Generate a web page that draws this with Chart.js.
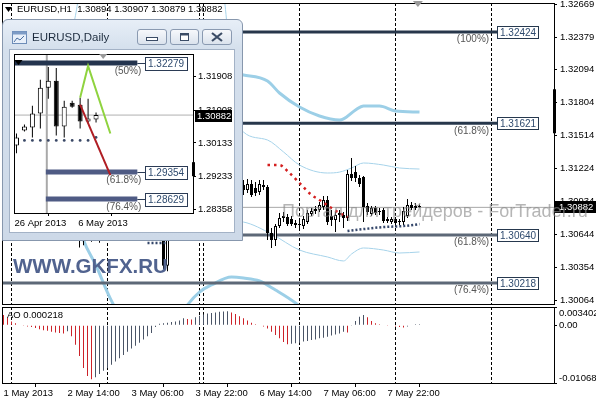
<!DOCTYPE html>
<html><head><meta charset="utf-8">
<script src="https://cdn.jsdelivr.net/npm/chart.js@4.4.1/dist/chart.umd.min.js"></script>
<style>
html,body{margin:0;padding:0;background:#fff;}
body{width:596px;height:400px;position:relative;overflow:hidden;font-family:"Liberation Sans",Arial,sans-serif;}
canvas.full{position:absolute;left:0;top:0;}
#hdr{position:absolute;left:17px;top:4px;font-size:9.5px;line-height:10px;color:#000;white-space:pre;}
#wm{position:absolute;left:282px;top:202px;font-size:18px;line-height:18px;color:rgba(135,135,135,0.62);white-space:nowrap;}
#gkfx{position:absolute;left:13px;top:256px;font-size:20.5px;line-height:20.5px;font-weight:bold;color:#51638f;white-space:nowrap;}
#win{position:absolute;left:2px;top:19px;width:241px;height:222px;box-sizing:border-box;border:1px solid #8797ad;border-radius:6px 6px 0 0;background:linear-gradient(#e7eef7,#d5e0ed 28px,#cdd9e8);}
#client{position:absolute;left:6px;top:29px;width:226px;height:184px;box-sizing:border-box;border:1px solid #a3b2c6;background:#fff;}
#daily{position:absolute;left:0;top:0;}
#title{position:absolute;left:29px;top:12px;font-size:11.5px;line-height:11.5px;color:#1d2c3e;white-space:nowrap;}
#icon{position:absolute;left:9px;top:11px;}
.btn{position:absolute;top:9px;height:16px;box-sizing:border-box;border:1px solid #8a9ab1;border-radius:3px;background:linear-gradient(#f6f8fb,#dbe3ed);}
.btn svg{position:absolute;left:0;top:0;}
</style></head>
<body>
<canvas id="main" class="full" width="596" height="400"></canvas>
<canvas id="ao" class="full" width="596" height="400"></canvas>
<div id="hdr">EURUSD,H1  1.30894 1.30907 1.30879 1.30882</div>
<div id="wm">Портал для трейдеров - ForTrader.ru</div>
<div id="gkfx">WWW.GKFX.RU</div>
<div id="win">
  <svg id="icon" width="16" height="14"><rect x="0.5" y="0.5" width="14" height="12" fill="#e8f0fa" stroke="#6d8db8"/><rect x="0.5" y="0.5" width="14" height="3" fill="#7d9cc6"/><polyline points="2,11 5,7 8,9 12,5" fill="none" stroke="#4a6fa0" stroke-width="1"/></svg>
  <div id="title">EURUSD,Daily</div>
  <div class="btn" style="left:134px;width:30px;"><svg width="28" height="14"><rect x="8.5" y="7.5" width="11" height="3" fill="#fff" stroke="#3b4c66"/></svg></div>
  <div class="btn" style="left:167px;width:29px;"><svg width="27" height="14"><rect x="9.5" y="3.5" width="8" height="7" fill="#fff" stroke="#3b4c66"/><line x1="9.5" y1="4.5" x2="17.5" y2="4.5" stroke="#3b4c66" stroke-width="2"/></svg></div>
  <div class="btn" style="left:199px;width:30px;"><svg width="28" height="14"><path d="M9 3 L19 11 M19 3 L9 11" stroke="#3b4c66" stroke-width="2.2"/></svg></div>
  <div id="client"><canvas id="daily" width="224" height="182"></canvas></div>
</div>
<script>
// ================= DATA (H1, bar index 0 = 1 May 22:00) =================
const opens  = [1.3225,1.3228,1.3236,1.3218,1.3208,1.3211,1.3206,1.3199,1.3204,1.3197,1.3193,1.3195,1.3188,1.3190,1.3184,1.3186,1.3175,1.3178,1.3138,1.3085,
1.3066,1.3078,1.3070,1.3079,1.3068,1.3074,1.3086,1.3082,1.3088,1.3084,1.3090,1.3094,1.3089,1.3095,1.3100,1.3097,1.3102,1.3106,1.3103,1.3105,
1.3121,1.3037,1.3074,1.3094,1.3106,1.3113,1.3109,1.3123,1.3118,1.3121,1.3117,1.3130,1.3126,1.3119,1.3124,1.3114,1.3117,1.3108,1.3112,1.3106,
1.31078,1.31035,1.31087,1.31052,1.31017,1.31061,1.31061,1.30656,1.30595,1.30718,1.30788,1.30797,1.30779,1.30744,1.30727,1.30718,1.30753,1.30823,1.30850,1.30859,
1.30885,1.30947,1.30806,1.30771,1.30815,1.30815,1.30788,1.31175,1.31192,1.31140,1.31149,1.30894,1.30823,1.30876,1.30850,1.30859,1.30779,1.30753,1.30779,1.30762,
1.30753,1.30806,1.30903,1.30876,1.30894];
const highs  = [1.3232,1.3242,1.3238,1.3222,1.3214,1.3216,1.3210,1.3207,1.3208,1.3203,1.3199,1.3198,1.3194,1.3193,1.3190,1.3189,1.3182,1.3181,1.3145,1.3098,
1.3083,1.3090,1.3082,1.3088,1.3077,1.3089,1.3094,1.3090,1.3096,1.3092,1.3098,1.3101,1.3097,1.3104,1.3108,1.3105,1.3110,1.3112,1.3109,1.3126,
1.3124,1.3079,1.3098,1.3112,1.3118,1.3121,1.3127,1.3130,1.3125,1.3126,1.3135,1.3138,1.3132,1.3128,1.3129,1.3121,1.3122,1.3116,1.3118,1.3114,
1.31122,1.31131,1.31122,1.31105,1.31122,1.31122,1.31078,1.30700,1.30735,1.30832,1.30841,1.30823,1.30806,1.30771,1.30771,1.30806,1.30859,1.30876,1.30894,1.30929,
1.30982,1.30982,1.30859,1.30841,1.30859,1.30841,1.31210,1.31316,1.31245,1.31166,1.31157,1.30920,1.30894,1.30894,1.30876,1.30876,1.30797,1.30797,1.30797,1.30779,
1.30885,1.30955,1.30929,1.30920,1.30907];
const lows   = [1.3221,1.3224,1.3215,1.3205,1.3200,1.3204,1.3196,1.3195,1.3194,1.3190,1.3187,1.3185,1.3183,1.3180,1.3178,1.3172,1.3168,1.3132,1.3072,1.3053,
1.3055,1.3060,1.3058,1.3062,1.3057,1.3069,1.3079,1.3076,1.3081,1.3078,1.3084,1.3086,1.3083,1.3090,1.3093,1.3090,1.3096,1.3099,1.3097,1.3098,
1.3034,1.3032,1.3068,1.3088,1.3098,1.3104,1.3105,1.3114,1.3110,1.3115,1.3112,1.3122,1.3115,1.3112,1.3111,1.3106,1.3104,1.3102,1.3103,1.3101,
1.30991,1.31008,1.30973,1.30982,1.30991,1.31035,1.30595,1.30524,1.30542,1.30700,1.30753,1.30718,1.30718,1.30700,1.30691,1.30691,1.30735,1.30806,1.30823,1.30841,
1.30859,1.30727,1.30718,1.30665,1.30753,1.30700,1.30762,1.31113,1.31105,1.31061,1.30753,1.30815,1.30806,1.30815,1.30815,1.30744,1.30744,1.30735,1.30709,1.30727,
1.30727,1.30788,1.30859,1.30859,1.30879];
const closes = [1.3228,1.3236,1.3218,1.3208,1.3211,1.3206,1.3199,1.3204,1.3197,1.3193,1.3195,1.3188,1.3190,1.3184,1.3186,1.3175,1.3178,1.3138,1.3085,1.3066,
1.3078,1.3070,1.3079,1.3068,1.3074,1.3086,1.3082,1.3088,1.3084,1.3090,1.3094,1.3089,1.3095,1.3100,1.3097,1.3102,1.3106,1.3103,1.3105,1.3121,
1.3037,1.3074,1.3094,1.3106,1.3113,1.3109,1.3123,1.3118,1.3121,1.3117,1.3130,1.3126,1.3119,1.3124,1.3114,1.3117,1.3108,1.3112,1.3106,1.3110,
1.31035,1.31087,1.30991,1.31008,1.31087,1.31078,1.30656,1.30595,1.30718,1.30788,1.30806,1.30735,1.30735,1.30727,1.30735,1.30779,1.30832,1.30850,1.30867,1.30903,
1.30947,1.30753,1.30771,1.30815,1.30832,1.30788,1.31175,1.31140,1.31140,1.31087,1.30885,1.30841,1.30876,1.30832,1.30841,1.30762,1.30762,1.30779,1.30744,1.30753,
1.30850,1.30903,1.30876,1.30894,1.30882];
const aoValues = [0.0019,0.0014,0.0007,0.0004,0.0001,-0.0001,-0.0002,-0.0003,-0.0005,-0.0007,-0.0009,-0.0010,-0.0012,-0.0013,-0.0014,-0.0015,-0.0011,-0.0020,-0.0036,-0.0057,
-0.0079,-0.0094,-0.0100,-0.0096,-0.0090,-0.0084,-0.0079,-0.0073,-0.0067,-0.0061,-0.0055,-0.0049,-0.0043,-0.0038,-0.0032,-0.0026,-0.0020,-0.0014,-0.0003,0.0003,
0.0004,0.0005,0.0006,0.0007,0.0009,0.0013,0.0012,0.0011,0.0015,0.0018,0.0020,0.0022,0.0023,0.0024,0.0025,0.00255,0.0026,0.0024,0.0021,0.0017,
0.0013,0.0009,0.0005,0.0002,0.0001,-0.0002,-0.0006,-0.0012,-0.0018,-0.0024,-0.0031,-0.0035,-0.0034,-0.0033,-0.0032,-0.0030,-0.0029,-0.0027,-0.0026,-0.0024,
-0.0023,-0.0021,-0.0019,-0.0017,-0.0015,-0.0012,-0.0013,-0.0001,0.0008,0.0016,0.0019,0.0015,0.0008,0.0004,0.0002,0.0001,-0.0001,0.0001,-0.0002,-0.0003,
-0.0004,-0.0002,0.0001,0.0002,0.000218];
const timeTickIdx = [0,16,32,48,64,80,96];
const timeTickLabels = ['1 May 2013','2 May 14:00','3 May 06:00','3 May 22:00','6 May 14:00','7 May 06:00','7 May 22:00'];
const daySepIdx = [2,26,49,50,74,98,122];
const priceTicks = [1.32669,1.32379,1.32094,1.31804,1.31514,1.31224,1.30934,1.30644,1.30354,1.30064];
const aoTicks = [0.003402,0,-0.01068];
const aoTickLabels = ['0.003402','0.00','-0.01068'];
const aoName = 'AO', aoLast = 0.000218;
const fibPrices = [1.32424,1.31621,1.30640,1.30218];
const fibLevels = ['(100%)','(61.8%)','(61.8%)','(76.4%)'];
const fibEndIdx = 123.4;
const bidPrice = 1.30882;
const bandThickUpper = [[45,1.3212],[52,1.3208],[60,1.32045],[66,1.31993],[69,1.31887],[74,1.31764],[79,1.31685],[84,1.31650],[85,1.31659],[88,1.31738],[90,1.31773],[94,1.31773],[98,1.31729],[104,1.31720]];
const bandThickLower = [[14,1.3140],[20,1.30595],[23,1.30380],[27,1.30060],[30,1.2990],[44,1.2990],[46,1.30024],[49,1.30138],[52,1.30200],[57,1.30270],[60,1.30261],[64,1.30235],[68,1.30156],[73,1.30042],[76,1.2995]];
const bandThinUpper = [[15,1.3230],[17,1.3240],[18,1.3257],[19,1.3275],[25,1.3290],[52,1.3290],[55,1.3275],[57,1.3200],[58,1.3170],[60,1.31544],[66,1.31474],[70,1.31369],[74,1.31254],[81,1.31184],[84,1.31192],[87,1.31228],[90,1.31272],[95,1.31254],[99,1.31228],[104,1.31219]];
const bandThinLower = [[57,1.3076],[60,1.30753],[67,1.30648],[74,1.30507],[81,1.30446],[85,1.30411],[87,1.30472],[90,1.30525],[95,1.30507],[99,1.30481],[104,1.30490]];
const redDots = [[66,1.31254],[69,1.31254],[71,1.31201],[74,1.31096],[77,1.30991],[79,1.30947],[82,1.30876],[84,1.30832],[86,1.30797]];
const navyDots = [[86,1.30674],[90,1.30691],[95,1.30709],[100,1.30718],[104,1.30735]];
const navyDotsEarly = [[36,1.30569],[41,1.30569]];

// ================= DATA (Daily inset, index 0 = 26 Apr 2013) =================
const dOpens  = [1.30068,1.30468,1.30548,1.30921,1.31615,1.31801,1.30575,1.31215,1.31161,1.30708,1.30761];
const dHighs  = [1.30388,1.30628,1.31135,1.31828,1.32175,1.32148,1.31268,1.31268,1.31348,1.31321,1.30948];
const dLows   = [1.29855,1.30441,1.30281,1.30521,1.31321,1.30335,1.30281,1.31081,1.30521,1.30655,1.30681];
const dCloses = [1.30281,1.30575,1.30921,1.31615,1.31801,1.30575,1.31108,1.31108,1.30708,1.30788,1.30882];
const dTickIdx = [0,8];
const dTickLabels = ['26 Apr 2013','6 May 2013'];
const dPriceTicks = [1.31908,1.31008,1.30133,1.29233,1.28358];
const dFibPrices = [1.32279,1.29354,1.28629];
const dFibLevels = ['(50%)','(61.8%)','(76.4%)'];
const dFibStartIdx = [-0.3125,3.69,3.69];
const dFibEndIdx = 15.19;
const dMonthSepIdx = 3.81;
const dGreen = [[8,1.31348],[9,1.32201],[11.8,1.30388]];
const dRed = [[8,1.31161],[11.8,1.29268]];
const dDots = [[1,1.30201],[2,1.30201],[3,1.30201],[4,1.30201],[5,1.30201],[6,1.30201],[7,1.30201],[8,1.30201],[9,1.30201],[10,1.30281]];

// ================= helpers =================
const FONT = '"Liberation Sans", Arial, sans-serif';
const pts = a => a.map(([x,y]) => ({x, y}));
function candleSets(o,h,l,c,bodyW){
  const idx = o.map((_,i)=>i);
  return [
    {type:'bar', data: idx.map(i=>({x:i, y:[l[i],h[i]]})), barThickness:1, grouped:false,
     backgroundColor:'#000', borderWidth:0, inflateAmount:0, order:2},
    {type:'bar', data: idx.map(i=>({x:i, y:[Math.min(o[i],c[i]), Math.max(o[i],c[i])]})), barThickness:bodyW, grouped:false,
     backgroundColor: idx.map(i=> c[i]>=o[i] ? '#fff' : '#000'), borderColor:'#000', borderWidth:1, borderSkipped:false,
     inflateAmount:0, minBarLength:1, order:1}
  ];
}
function lineSet(data, color, width, order, extra){
  return Object.assign({type:'line', data: pts(data), borderColor:color, borderWidth:width, pointRadius:0,
    fill:false, order, clip:0, cubicInterpolationMode:'monotone'}, extra||{});
}
function drawSeparators(chart, list, dash, color, width){
  const {ctx, chartArea:ca} = chart, xs = chart.scales.x;
  ctx.save(); ctx.beginPath(); ctx.rect(ca.left, ca.top, ca.width, ca.height); ctx.clip();
  ctx.strokeStyle = color; ctx.lineWidth = width; ctx.setLineDash(dash);
  list.forEach(v => { const px = xs.getPixelForValue(v); ctx.beginPath(); ctx.moveTo(px, ca.top); ctx.lineTo(px, ca.bottom+1); ctx.stroke(); });
  ctx.restore();
}
function drawFrame(chart){
  const {ctx, chartArea:ca} = chart;
  ctx.save(); ctx.strokeStyle='#000'; ctx.lineWidth=1; ctx.setLineDash([]);
  ctx.strokeRect(ca.left+0.5, ca.top+0.5, ca.width, ca.height); ctx.restore();
}
function tri(ctx, x0, x1, y0, y1, color){
  ctx.fillStyle = color; ctx.beginPath(); ctx.moveTo(x0,y0); ctx.lineTo(x1,y0); ctx.lineTo((x0+x1)/2,y1); ctx.closePath(); ctx.fill();
}

// ================= main H1 price chart =================
const mainDecor = {
  id:'mainDecor',
  beforeDatasetsDraw(chart){ drawSeparators(chart, daySepIdx, [3,2], '#000', 1); },
  afterDatasetsDraw(chart){
    const {ctx} = chart, xs = chart.scales.x, ys = chart.scales.y;
    const xe = xs.getPixelForValue(fibEndIdx);
    ctx.save(); ctx.font = '10px '+FONT; ctx.textBaseline='middle';
    fibPrices.forEach((p,k)=>{
      const y = ys.getPixelForValue(p);
      const bx = Math.round(xe)+0.5, by = Math.round(y)-6+0.5;
      ctx.fillStyle='#fff'; ctx.fillRect(bx,by,41,12);
      ctx.strokeStyle='#26384e'; ctx.lineWidth=1; ctx.strokeRect(bx,by,41,12);
      ctx.fillStyle='#2e4a6e'; ctx.textAlign='left'; ctx.fillText(p.toFixed(5), bx+2.5, by+6.5);
      ctx.fillStyle='#555'; ctx.textAlign='right'; ctx.fillText(fibLevels[k], xe-8, y+7.5);
    });
    ctx.restore();
    drawFrame(chart);
  },
  afterDraw(chart){
    const {ctx, chartArea:ca} = chart, ys = chart.scales.y, xs = chart.scales.x;
    ctx.save();
    const yb = Math.round(ys.getPixelForValue(bidPrice));
    ctx.fillStyle='#000'; ctx.fillRect(ca.right+1, yb-6, 596-ca.right-1, 12);
    ctx.fillStyle='#fff'; ctx.font='9.5px '+FONT; ctx.textBaseline='middle'; ctx.textAlign='left';
    ctx.fillText(bidPrice.toFixed(5), ca.right+5, yb+0.5);
    ctx.fillStyle='#000'; ctx.fillRect(ca.right-1, ys.getPixelForValue(1.3192), 3, 44);
    tri(ctx, xs.getPixelForValue(103.6)-5, xs.getPixelForValue(103.6)+5, 1, 7, '#9a9a9a');
    tri(ctx, 5, 12, 7, 12, '#000');
    ctx.restore();
  }
};
new Chart(document.getElementById('main'), {
  type:'bar',
  data:{datasets:[
    lineSet([[-0.375,bidPrice],[137.625,bidPrice]], '#a8a8a8', 1, 20, {cubicInterpolationMode:'default', tension:0}),
    lineSet(bandThickUpper, '#9ccfe7', 3, 15),
    lineSet(bandThickLower, '#9ccfe7', 3, 15),
    lineSet(bandThinUpper, '#a6d3ea', 1, 15),
    lineSet(bandThinLower, '#a6d3ea', 1, 15),
    ...fibPrices.map((p,k)=> lineSet([[-0.375,p],[fibEndIdx,p]], k<2 ? '#27374b' : '#5d6877', 3, 12, {tension:0, cubicInterpolationMode:'default'})),
    ...candleSets(opens, highs, lows, closes, 3),
    lineSet(redDots, '#d41f1f', 2.5, 0, {borderDash:[2.5,4]}),
    lineSet(navyDots, '#34466a', 2.5, 0, {borderDash:[2,2]}),
    lineSet(navyDotsEarly, '#34466a', 2.5, 0, {borderDash:[2,2], tension:0})
  ]},
  options:{
    responsive:false, animation:false, devicePixelRatio:1,
    layout:{padding:{left:2, top:3, right:0, bottom:96}},
    plugins:{legend:{display:false}, tooltip:{enabled:false}},
    scales:{
      x:{type:'linear', min:-0.375, max:137.625, offset:false, display:false},
      y:{type:'linear', position:'right', min:1.300328, max:1.32678,
        afterBuildTicks:s=>{ s.ticks = priceTicks.map(v=>({value:v})); },
        afterFit:s=>{ s.width=42; s.paddingTop=0; s.paddingBottom=0; },
        ticks:{font:{family:'Liberation Sans', size:9.5}, color:'#000', padding:3, autoSkip:false, callback:v=>Number(v).toFixed(5)},
        grid:{drawOnChartArea:false, drawTicks:true, tickLength:3, color:'#000'},
        border:{display:false}}
    }
  },
  plugins:[mainDecor]
});

// ================= AO panel =================
const aoDecor = {
  id:'aoDecor',
  beforeDatasetsDraw(chart){ drawSeparators(chart, daySepIdx, [3,2], '#000', 1); },
  afterDraw(chart){
    drawFrame(chart);
    const {ctx, chartArea:ca} = chart, ys = chart.scales.y;
    ctx.save(); ctx.font='9.5px '+FONT; ctx.fillStyle='#000'; ctx.textBaseline='middle'; ctx.textAlign='left';
    aoTicks.forEach((v,k)=>{
      let y = ys.getPixelForValue(v); y = Math.min(Math.max(y, ca.top+6), ca.bottom-5);
      ctx.fillText(aoTickLabels[k], ca.right+5, y);
    });
    ctx.fillText(aoName+' '+aoLast.toFixed(6), 7, ca.top+8);
    ctx.restore();
  }
};
new Chart(document.getElementById('ao'), {
  type:'bar',
  data:{datasets:[{
    data: aoValues.map((v,i)=>({x:i, y:v})), barThickness:1, grouped:false, borderWidth:0, inflateAmount:0,
    backgroundColor: aoValues.map((v,i)=> (i===0 || v < aoValues[i-1]) ? '#cc2229' : '#4a5466')
  }]},
  options:{
    responsive:false, animation:false, devicePixelRatio:1,
    layout:{padding:{left:2, top:307, right:0, bottom:0}},
    plugins:{legend:{display:false}, tooltip:{enabled:false}},
    scales:{
      x:{type:'linear', min:-0.375, max:137.625, offset:false, position:'bottom',
        afterBuildTicks:s=>{ s.ticks = timeTickIdx.map(v=>({value:v})); },
        afterFit:s=>{ s.height=17; s.paddingLeft=0; s.paddingRight=0; },
        ticks:{align:'start', maxRotation:0, autoSkip:false, font:{family:'Liberation Sans', size:9.5}, color:'#000', padding:1,
          callback:(v,i)=>timeTickLabels[i]},
        grid:{drawOnChartArea:false, drawTicks:true, tickLength:4, color:'#000'},
        border:{display:false}},
      y:{type:'linear', position:'right', min:-0.01068, max:0.003402,
        afterBuildTicks:s=>{ s.ticks = aoTicks.map(v=>({value:v})); },
        afterFit:s=>{ s.width=42; s.paddingTop=0; s.paddingBottom=0; },
        ticks:{display:false},
        grid:{drawOnChartArea:false, drawTicks:true, tickLength:3, color:'#000'},
        border:{display:false}}
    }
  },
  plugins:[aoDecor]
});

// ================= Daily inset =================
const dailyDecor = {
  id:'dailyDecor',
  beforeDatasetsDraw(chart){ drawSeparators(chart, [dMonthSepIdx], [], '#a9a9a9', 2); },
  afterDatasetsDraw(chart){
    const {ctx} = chart, xs = chart.scales.x, ys = chart.scales.y;
    const xe = xs.getPixelForValue(dFibEndIdx);
    ctx.save(); ctx.font='10px '+FONT; ctx.textBaseline='middle';
    dFibPrices.forEach((p,k)=>{
      const y = ys.getPixelForValue(p);
      const bx = Math.round(xe)+8.5, by = Math.round(y)-6+0.5;
      ctx.strokeStyle='#2b3b55'; ctx.lineWidth=1;
      ctx.beginPath(); ctx.moveTo(xe, Math.round(y)+0.5); ctx.lineTo(bx, Math.round(y)+0.5); ctx.stroke();
      ctx.fillStyle='#fff'; ctx.fillRect(bx,by,42,13); ctx.strokeRect(bx,by,42,13);
      ctx.fillStyle='#2e4a6e'; ctx.textAlign='left'; ctx.fillText(p.toFixed(5), bx+2.5, by+7);
      ctx.fillStyle='#555'; ctx.textAlign='right'; ctx.fillText(dFibLevels[k], xe+4, y+8.5);
    });
    ctx.restore();
    drawFrame(chart);
  },
  afterDraw(chart){
    const {ctx, chartArea:ca} = chart, ys = chart.scales.y, xs = chart.scales.x;
    ctx.save();
    const yb = Math.round(ys.getPixelForValue(dCloses[dCloses.length-1]));
    ctx.fillStyle='#000'; ctx.fillRect(ca.right+2, yb-5, 37, 12);
    ctx.fillStyle='#fff'; ctx.font='9.5px '+FONT; ctx.textBaseline='middle'; ctx.textAlign='left';
    ctx.fillText(dCloses[dCloses.length-1].toFixed(5), ca.right+4, yb+1);
    ctx.fillStyle='#000'; ctx.fillRect(ca.right-1, ys.getPixelForValue(1.29618), 3, 14);
    const yt = ys.getPixelForValue(dFibPrices[0]);
    tri(ctx, xs.getPixelForValue(0.25)-4, xs.getPixelForValue(0.25)+4, yt-3, yt+2, '#000');
    tri(ctx, xs.getPixelForValue(10.9)-4, xs.getPixelForValue(10.9)+4, ca.top, ca.top+5, '#9a9a9a');
    ctx.restore();
  }
};
new Chart(document.getElementById('daily'), {
  type:'bar',
  data:{datasets:[
    lineSet([[-0.3125,dCloses[dCloses.length-1]],[22.1875,dCloses[dCloses.length-1]]], '#b0b0b0', 1, 20, {tension:0, cubicInterpolationMode:'default'}),
    ...dFibPrices.map((p,k)=> lineSet([[dFibStartIdx[k],p],[dFibEndIdx,p]], k===0 ? '#24344e' : '#4f5b84', 5, 12, {tension:0, cubicInterpolationMode:'default'})),
    ...candleSets(dOpens, dHighs, dLows, dCloses, 5),
    lineSet(dGreen, '#8fd33f', 2, 0, {tension:0, cubicInterpolationMode:'default'}),
    lineSet(dRed, '#b01e24', 2, 0, {tension:0, cubicInterpolationMode:'default'}),
    {type:'line', data: pts(dDots), showLine:false, pointRadius:1.4, pointBackgroundColor:'#3a4866', pointBorderWidth:0, order:0}
  ]},
  options:{
    responsive:false, animation:false, devicePixelRatio:1,
    layout:{padding:{left:3, top:3, right:0, bottom:0}},
    plugins:{legend:{display:false}, tooltip:{enabled:false}},
    scales:{
      x:{type:'linear', min:-0.3125, max:22.1875, offset:false, position:'bottom',
        afterBuildTicks:s=>{ s.ticks = dTickIdx.map(v=>({value:v})); },
        afterFit:s=>{ s.height=19; s.paddingLeft=0; s.paddingRight=0; },
        ticks:{align:'start', maxRotation:0, autoSkip:false, labelOffset:-2, font:{family:'Liberation Sans', size:9.5}, color:'#000', padding:2,
          callback:(v,i)=>dTickLabels[i]},
        grid:{drawOnChartArea:false, drawTicks:true, tickLength:3, color:'#000'},
        border:{display:false}},
      y:{type:'linear', position:'right', min:1.28254, max:1.32521,
        afterBuildTicks:s=>{ s.ticks = dPriceTicks.map(v=>({value:v})); },
        afterFit:s=>{ s.width=41; s.paddingTop=0; s.paddingBottom=0; },
        ticks:{font:{family:'Liberation Sans', size:9.5}, color:'#000', padding:2, autoSkip:false, callback:v=>Number(v).toFixed(5)},
        grid:{drawOnChartArea:false, drawTicks:true, tickLength:3, color:'#000'},
        border:{display:false}}
    }
  },
  plugins:[dailyDecor]
});
</script>
</body></html>
